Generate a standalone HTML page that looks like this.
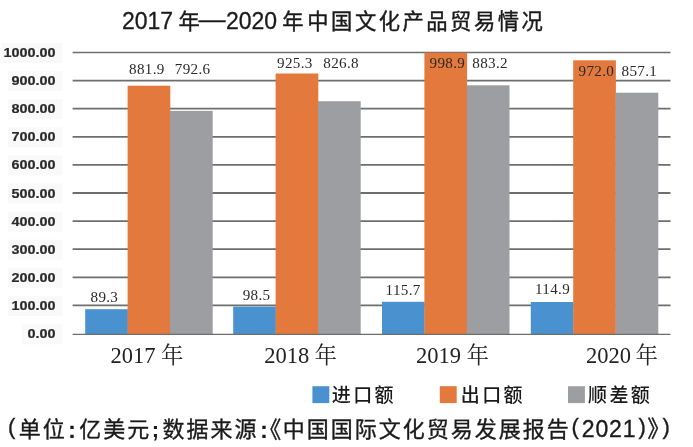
<!DOCTYPE html>
<html lang="zh"><head><meta charset="utf-8"><title>2017年—2020年中国文化产品贸易情况</title>
<style>
html,body{margin:0;padding:0;background:#fff;}
svg{display:block;filter:blur(0.45px)}
.t{font-family:"Liberation Sans","Noto Sans CJK SC",sans-serif;}
.s{font-family:"Liberation Serif","Noto Serif CJK SC",serif;}
</style></head><body>
<svg width="693" height="447" viewBox="0 0 693 447">
<rect width="693" height="447" fill="#fff"/>

<line x1="72.6" x2="670.5" y1="305.4" y2="305.4" stroke="#6e6e6e" stroke-width="1.8"/>
<line x1="72.6" x2="670.5" y1="277.3" y2="277.3" stroke="#6e6e6e" stroke-width="1.8"/>
<line x1="72.6" x2="670.5" y1="249.2" y2="249.2" stroke="#6e6e6e" stroke-width="1.8"/>
<line x1="72.6" x2="670.5" y1="221.1" y2="221.1" stroke="#6e6e6e" stroke-width="1.8"/>
<line x1="72.6" x2="670.5" y1="193.0" y2="193.0" stroke="#6e6e6e" stroke-width="1.8"/>
<line x1="72.6" x2="670.5" y1="164.9" y2="164.9" stroke="#6e6e6e" stroke-width="1.8"/>
<line x1="72.6" x2="670.5" y1="136.8" y2="136.8" stroke="#6e6e6e" stroke-width="1.8"/>
<line x1="72.6" x2="670.5" y1="108.7" y2="108.7" stroke="#6e6e6e" stroke-width="1.8"/>
<line x1="72.6" x2="670.5" y1="80.6" y2="80.6" stroke="#6e6e6e" stroke-width="1.8"/>
<line x1="72.6" x2="670.5" y1="52.5" y2="52.5" stroke="#6e6e6e" stroke-width="1.3"/>
<rect x="85.2" y="309.2" width="42.7" height="25.2" fill="#4a92cf"/>
<rect x="127.6" y="85.7" width="42.7" height="248.7" fill="#e3793d"/>
<rect x="170.0" y="110.9" width="42.7" height="223.5" fill="#9d9ea1"/>
<rect x="233.2" y="306.6" width="42.7" height="27.8" fill="#4a92cf"/>
<rect x="275.6" y="73.5" width="42.7" height="260.9" fill="#e3793d"/>
<rect x="318.0" y="101.2" width="42.7" height="233.2" fill="#9d9ea1"/>
<rect x="382.0" y="301.8" width="42.7" height="32.6" fill="#4a92cf"/>
<rect x="424.4" y="52.7" width="42.7" height="281.7" fill="#e3793d"/>
<rect x="466.8" y="85.3" width="42.7" height="249.1" fill="#9d9ea1"/>
<rect x="530.8" y="302.0" width="42.7" height="32.4" fill="#4a92cf"/>
<rect x="573.2" y="60.3" width="42.7" height="274.1" fill="#e3793d"/>
<rect x="615.6" y="92.7" width="42.7" height="241.7" fill="#9d9ea1"/>
<line x1="72.6" x2="670.5" y1="334.4" y2="334.4" stroke="#6e6e6e" stroke-width="1.4"/>
<rect x="22" y="324.4" width="40.5" height="20" fill="#f9f9f9"/>
<text class="t" transform="translate(55.6,338.4) scale(1.1,1)" x="0" y="0" font-size="13.1" font-weight="bold" text-anchor="end" fill="#2a2a2a" stroke="#2a2a2a" stroke-width="0.2">0.00</text>
<rect x="8" y="295.9" width="54.5" height="20" fill="#f9f9f9"/>
<text class="t" transform="translate(55.6,309.9) scale(1.1,1)" x="0" y="0" font-size="13.1" font-weight="bold" text-anchor="end" fill="#2a2a2a" stroke="#2a2a2a" stroke-width="0.2">100.00</text>
<rect x="8" y="267.8" width="54.5" height="20" fill="#f9f9f9"/>
<text class="t" transform="translate(55.6,281.8) scale(1.1,1)" x="0" y="0" font-size="13.1" font-weight="bold" text-anchor="end" fill="#2a2a2a" stroke="#2a2a2a" stroke-width="0.2">200.00</text>
<rect x="8" y="239.7" width="54.5" height="20" fill="#f9f9f9"/>
<text class="t" transform="translate(55.6,253.7) scale(1.1,1)" x="0" y="0" font-size="13.1" font-weight="bold" text-anchor="end" fill="#2a2a2a" stroke="#2a2a2a" stroke-width="0.2">300.00</text>
<rect x="8" y="211.6" width="54.5" height="20" fill="#f9f9f9"/>
<text class="t" transform="translate(55.6,225.6) scale(1.1,1)" x="0" y="0" font-size="13.1" font-weight="bold" text-anchor="end" fill="#2a2a2a" stroke="#2a2a2a" stroke-width="0.2">400.00</text>
<rect x="8" y="183.5" width="54.5" height="20" fill="#f9f9f9"/>
<text class="t" transform="translate(55.6,197.5) scale(1.1,1)" x="0" y="0" font-size="13.1" font-weight="bold" text-anchor="end" fill="#2a2a2a" stroke="#2a2a2a" stroke-width="0.2">500.00</text>
<rect x="8" y="155.4" width="54.5" height="20" fill="#f9f9f9"/>
<text class="t" transform="translate(55.6,169.4) scale(1.1,1)" x="0" y="0" font-size="13.1" font-weight="bold" text-anchor="end" fill="#2a2a2a" stroke="#2a2a2a" stroke-width="0.2">600.00</text>
<rect x="8" y="127.3" width="54.5" height="20" fill="#f9f9f9"/>
<text class="t" transform="translate(55.6,141.3) scale(1.1,1)" x="0" y="0" font-size="13.1" font-weight="bold" text-anchor="end" fill="#2a2a2a" stroke="#2a2a2a" stroke-width="0.2">700.00</text>
<rect x="8" y="99.2" width="54.5" height="20" fill="#f9f9f9"/>
<text class="t" transform="translate(55.6,113.2) scale(1.1,1)" x="0" y="0" font-size="13.1" font-weight="bold" text-anchor="end" fill="#2a2a2a" stroke="#2a2a2a" stroke-width="0.2">800.00</text>
<rect x="8" y="71.1" width="54.5" height="20" fill="#f9f9f9"/>
<text class="t" transform="translate(55.6,85.1) scale(1.1,1)" x="0" y="0" font-size="13.1" font-weight="bold" text-anchor="end" fill="#2a2a2a" stroke="#2a2a2a" stroke-width="0.2">900.00</text>
<rect x="1.5" y="43.0" width="61.0" height="20" fill="#f9f9f9"/>
<text class="t" transform="translate(55.6,57.0) scale(1.1,1)" x="0" y="0" font-size="13.1" font-weight="bold" text-anchor="end" fill="#2a2a2a" stroke="#2a2a2a" stroke-width="0.2">1000.00</text>
<text class="s" transform="translate(129.1,73.9) scale(1.08,1)" font-size="14" letter-spacing="0.3" fill="#2a2a2a">881.9</text>
<text class="s" transform="translate(174.8,73.9) scale(1.08,1)" font-size="14" letter-spacing="0.3" fill="#2a2a2a">792.6</text>
<text class="s" transform="translate(277.1,67.6) scale(1.08,1)" font-size="14" letter-spacing="0.3" fill="#2a2a2a">925.3</text>
<text class="s" transform="translate(323.3,67.6) scale(1.08,1)" font-size="14" letter-spacing="0.3" fill="#2a2a2a">826.8</text>
<text class="s" transform="translate(429.6,67.6) scale(1.08,1)" font-size="14" letter-spacing="0.3" fill="#2a2a2a">998.9</text>
<text class="s" transform="translate(472.3,67.6) scale(1.08,1)" font-size="14" letter-spacing="0.3" fill="#2a2a2a">883.2</text>
<text class="s" transform="translate(578.5,75.7) scale(1.08,1)" font-size="14" letter-spacing="0.3" fill="#2a2a2a">972.0</text>
<text class="s" transform="translate(621.5,75.7) scale(1.08,1)" font-size="14" letter-spacing="0.3" fill="#2a2a2a">857.1</text>
<text class="s" transform="translate(90.5,301.5) scale(1.08,1)" font-size="14" letter-spacing="0.3" fill="#2a2a2a">89.3</text>
<text class="s" transform="translate(242.7,299.7) scale(1.08,1)" font-size="14" letter-spacing="0.3" fill="#2a2a2a">98.5</text>
<text class="s" transform="translate(385.6,295.2) scale(1.08,1)" font-size="14" letter-spacing="0.3" fill="#2a2a2a">115.7</text>
<text class="s" transform="translate(535.0,294.1) scale(1.08,1)" font-size="14" letter-spacing="0.3" fill="#2a2a2a">114.9</text>
<text class="s" x="110.6" y="363.2" font-size="22.5" fill="#222">2017</text>
<text class="s" x="161.0" y="363.2" font-size="22.5" fill="#222">年</text>
<text class="s" x="264.2" y="363.2" font-size="22.5" fill="#222">2018</text>
<text class="s" x="314.6" y="363.2" font-size="22.5" fill="#222">年</text>
<text class="s" x="416.1" y="363.2" font-size="22.5" fill="#222">2019</text>
<text class="s" x="466.5" y="363.2" font-size="22.5" fill="#222">年</text>
<text class="s" x="586.1" y="363.2" font-size="22.5" fill="#222">2020</text>
<text class="s" x="635.6" y="363.2" font-size="22.5" fill="#222">年</text>
<text class="t" transform="translate(122.0,29.2) scale(1,1.04)" font-size="23" fill="#1a1a1a" stroke="#1a1a1a" stroke-width="0.3">2017</text>
<text class="t" x="178.6" y="29.0" font-size="21.3" font-weight="400" fill="#1a1a1a" stroke="#1a1a1a" stroke-width="0.4">年</text>
<text class="t" transform="translate(198.7,26.6) scale(1.25,1.1)" font-size="21.3" font-weight="400" fill="#1a1a1a" stroke="#1a1a1a" stroke-width="0.4">—</text>
<text class="t" transform="translate(226.0,29.2) scale(1,1.04)" font-size="23" fill="#1a1a1a" stroke="#1a1a1a" stroke-width="0.3">2020</text>
<text class="t" x="282.3" y="29.0" font-size="21.3" font-weight="400" fill="#1a1a1a" stroke="#1a1a1a" stroke-width="0.4">年</text>
<text class="t" x="307.3" y="29.0" font-size="21.3" font-weight="400" fill="#1a1a1a" stroke="#1a1a1a" stroke-width="0.4" letter-spacing="2.5">中国文化产品贸易情况</text>
<rect x="312.40000000000003" y="386.2" width="16.9" height="16.9" fill="#4a92cf"/>
<text class="t" x="331.8" y="401.5" font-size="19" font-weight="500" letter-spacing="2.4" fill="#1a1a1a">进口额</text>
<rect x="439.8" y="386.2" width="16.9" height="16.9" fill="#e3793d"/>
<text class="t" x="460.8" y="401.5" font-size="19" font-weight="500" letter-spacing="2.4" fill="#1a1a1a">出口额</text>
<rect x="568.0" y="386.2" width="16.9" height="16.9" fill="#9d9ea1"/>
<text class="t" x="588.0" y="401.5" font-size="19" font-weight="500" letter-spacing="2.4" fill="#1a1a1a">顺差额</text>
<text class="t" x="7.98" y="434.35" font-size="22" font-weight="400" fill="#1a1a1a" stroke="#1a1a1a" stroke-width="0.35">(</text>
<text class="t" x="18.76" y="437.1" font-size="22" letter-spacing="2.0" font-weight="400" fill="#1a1a1a" stroke="#1a1a1a" stroke-width="0.35">单位</text>
<text class="t" x="68.05" y="438.3" font-size="24" font-weight="700" fill="#1a1a1a">:</text>
<text class="t" x="79.15" y="437.1" font-size="22" letter-spacing="2.0" font-weight="400" fill="#1a1a1a" stroke="#1a1a1a" stroke-width="0.35">亿美元</text>
<text class="t" x="151.65" y="436.7" font-size="22" font-weight="700" fill="#1a1a1a">;</text>
<text class="t" x="162.6" y="437.1" font-size="22" letter-spacing="2.0" font-weight="400" fill="#1a1a1a" stroke="#1a1a1a" stroke-width="0.35">数据来源</text>
<text class="t" x="260.05" y="438.3" font-size="24" font-weight="700" fill="#1a1a1a">:</text>
<text class="t" x="258.17" y="437.6" font-size="23" font-weight="400" fill="#1a1a1a" stroke="#1a1a1a" stroke-width="0.35">《</text>
<text class="t" x="282.64" y="437.1" font-size="22" letter-spacing="2.0" font-weight="400" fill="#1a1a1a" stroke="#1a1a1a" stroke-width="0.35">中国国际文化贸易发展报告</text>
<text class="t" x="571.47" y="434.25" font-size="22" font-weight="400" fill="#1a1a1a" stroke="#1a1a1a" stroke-width="0.35">(</text>
<text class="t" x="581.65" y="436.5" font-size="23" letter-spacing="0.95" font-weight="400" fill="#1a1a1a" stroke="#1a1a1a" stroke-width="0.35">2021</text>
<text class="t" x="638.48" y="434.25" font-size="22" font-weight="400" fill="#1a1a1a" stroke="#1a1a1a" stroke-width="0.35">)</text>
<text class="t" x="647.22" y="437.4" font-size="23" font-weight="400" fill="#1a1a1a" stroke="#1a1a1a" stroke-width="0.35">》</text>
<text class="t" x="662.58" y="434.25" font-size="22" font-weight="400" fill="#1a1a1a" stroke="#1a1a1a" stroke-width="0.35">)</text>
</svg></body></html>
